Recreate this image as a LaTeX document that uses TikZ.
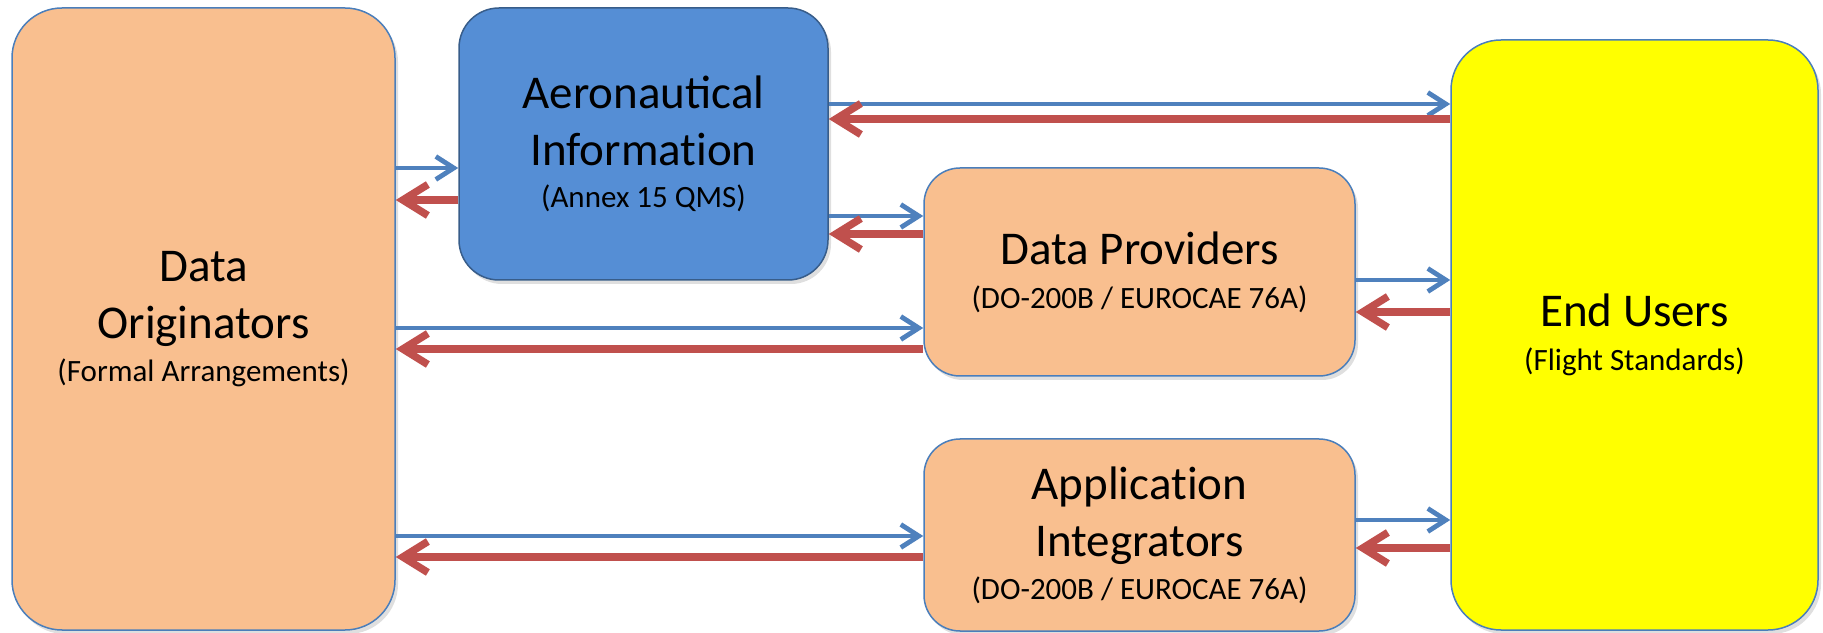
\documentclass[tikz,border=0pt]{standalone}
\usepackage{fontspec}
\setmainfont{Carlito}
\usetikzlibrary{arrows.meta,shadows}
\definecolor{orangefill}{HTML}{F9BF8F}
\definecolor{aifill}{HTML}{558ED5}
\definecolor{aiedge}{HTML}{385D8A}
\definecolor{boxedge}{HTML}{4A7EBB}
\definecolor{eufill}{HTML}{FFFF00}
\definecolor{flowblue}{HTML}{4F81BD}
\definecolor{flowred}{HTML}{C0504D}
\newcommand{\bigtxt}{\fontsize{47}{57}\selectfont}
\newcommand{\smalltxt}{\fontsize{31}{42}\selectfont}
\tikzset{
  box/.style={draw=boxedge, line width=1.5pt, rounded corners=50pt, inner sep=0pt,
    align=center, font=\bigtxt,
    drop shadow={opacity=0.25, shadow xshift=3pt, shadow yshift=-4pt}},
  fwd/.style={flowblue, line width=4.8pt, -{Straight Barb[length=18pt, width=23pt]}},
  bwd/.style={flowred, line width=7.5pt, -{Straight Barb[length=25pt, width=31pt]}},
}
\begin{document}
\begin{tikzpicture}[x=1pt,y=1pt]
        \useasboundingbox (0,0) rectangle (1823,632);
        % Draw the five boxes
        \node[box, fill=orangefill, minimum width=383, minimum height=622] (DO) at (203.5,313)
          {Data\\Originators\\[-14pt]{\smalltxt (Formal Arrangements)}};
        \node[box, fill=aifill, draw=aiedge, rounded corners=40pt, minimum width=369, minimum height=272] (AI) at (643.5,488)
          {Aeronautical\\Informat\kern0pt ion\\[-15pt]{\smalltxt (Annex 15 QMS)}};
        \node[box, fill=orangefill, rounded corners=36pt, minimum width=431, minimum height=208] (DP) at (1139.5,360)
          {Data Providers\\[-13pt]{\smalltxt (DO-200B / EUROCAE 76A)}};
        \node[box, fill=orangefill, rounded corners=36pt, minimum width=431, minimum height=192] (AppI) at (1139.5,97)
          {Applicat\kern0pt ion\\Integrators\\[-14pt]{\smalltxt (DO-200B / EUROCAE 76A)}};
        \node[box, fill=eufill, rounded corners=50pt, minimum width=367, minimum height=590] (EU) at (1634.5,297)
          {End Users\\[-13pt]{\smalltxt (Flight Standards)}};
        % Anchor points on the boxes
        \coordinate (ai1) at ([yshift=-24pt]AI.west);
        \coordinate (ai2) at ([yshift=-56pt]AI.west);
        \coordinate (ai3) at ([yshift=40pt]AI.east);
        \coordinate (ai4) at ([yshift=25pt]AI.east);
        \coordinate (ai5) at ([yshift=-72pt]AI.east);
        \coordinate (ai6) at ([yshift=-90pt]AI.east);
        \coordinate (dp1) at ([yshift=-56pt]DP.west);
        \coordinate (dp2) at ([yshift=-77pt]DP.west);
        \coordinate (dp3) at ([yshift=-8pt]DP.east);
        \coordinate (dp4) at ([yshift=-40pt]DP.east);
        \coordinate (ap1) at ([yshift=-1pt]AppI.west);
        \coordinate (ap2) at ([yshift=-22pt]AppI.west);
        \coordinate (ap3) at ([yshift=15pt]AppI.east);
        \coordinate (ap4) at ([yshift=-13pt]AppI.east);
        % Originators <-> Aeronautical Information
        \draw[fwd] (DO.east |- ai1) -- (ai1);
        \draw[bwd] (ai2) -- (DO.east |- ai2);
        % Aeronautical Information <-> End Users
        \draw[fwd] (ai3) -- (EU.west |- ai3);
        \draw[bwd] (EU.west |- ai4) -- (ai4);
        % Aeronautical Information <-> Data Providers
        \draw[fwd] (ai5) -- (DP.west |- ai5);
        \draw[bwd] (DP.west |- ai6) -- (ai6);
        % Originators <-> Data Providers
        \draw[fwd] (DO.east |- dp1) -- (dp1);
        \draw[bwd] (dp2) -- (DO.east |- dp2);
        % Data Providers <-> End Users
        \draw[fwd] (dp3) -- (EU.west |- dp3);
        \draw[bwd] (EU.west |- dp4) -- (dp4);
        % Originators <-> Application Integrators
        \draw[fwd] (DO.east |- ap1) -- (ap1);
        \draw[bwd] (ap2) -- (DO.east |- ap2);
        % Application Integrators <-> End Users
        \draw[fwd] (ap3) -- (EU.west |- ap3);
        \draw[bwd] (EU.west |- ap4) -- (ap4);
    \end{tikzpicture}
\end{document}
